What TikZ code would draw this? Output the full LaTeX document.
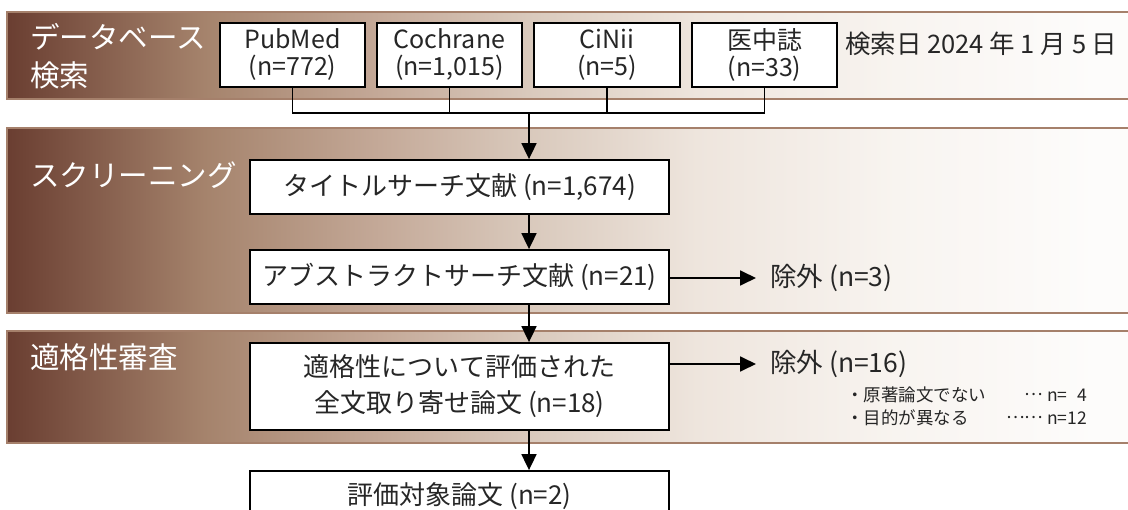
\documentclass[tikz,border=0pt]{standalone}
\usepackage{fontspec}
\setmainfont{Noto Sans CJK JP}
\usetikzlibrary{arrows.meta}
\definecolor{brA}{HTML}{6A3E31}
\definecolor{brB}{HTML}{A5836C}
\definecolor{brC}{HTML}{C4A998}
\definecolor{brD}{HTML}{D9C9BC}
\definecolor{brE}{HTML}{EEE5DD}
\definecolor{brF}{HTML}{F8F4F0}
\definecolor{brG}{HTML}{FDFCFB}
\definecolor{brline}{HTML}{A5806B}
\definecolor{txt}{HTML}{262626}
\pgfdeclarehorizontalshading{bandshade}{100bp}{color(0bp)=(brA); color(25bp)=(brA);
  color(33.8bp)=(brB); color(41.6bp)=(brC); color(48.2bp)=(brD); color(55.7bp)=(brE);
  color(64.6bp)=(brF); color(73.5bp)=(brG); color(100bp)=(brG)}
\newcommand{\middots}[1]{\raisebox{0.3em}{#1}}
\begin{document}
\begin{tikzpicture}[x=1pt,y=-1pt,
  band/.style={shading=bandshade, draw=brline, line width=1.2pt},
  lbl/.style={anchor=west, text=white, align=left, font=\fontsize{29.5}{38}\selectfont, inner sep=0pt},
  box/.style={draw, line width=1.8pt, fill=white, text=txt, align=center, inner sep=0pt,
    font=\fontsize{26}{29}\selectfont},
  dbbox/.style={box, minimum height=64pt, font=\fontsize{25}{27}\selectfont},
  note/.style={anchor=west, text=txt, inner sep=0pt, font=\fontsize{26.5}{29}\selectfont},
  line/.style={line width=1.8pt},
  arr/.style={line width=1.8pt, -{Triangle[length=16pt,width=15pt]}}]
\clip (0,0) rectangle (1128,510);
% bands
\path[band] (7,12) rectangle (1130,99);
\path[band] (7,128) rectangle (1130,313);
\path[band] (7,331) rectangle (1130,443);
\node[lbl] (lab1) at (30,56) {データベース\\検索};
\node[lbl] (lab2) at (30,175) {スクリーニング};
\node[lbl] (lab3) at (30,357) {適格性審査};
% databases
\node[dbbox, minimum width=145pt] (db1) at (292.5,55) {PubMed\\(n=772)};
\node[dbbox, minimum width=145pt] (db2) at (449.5,55) {Cochrane\\(n=1,015)};
\node[dbbox, minimum width=146pt] (db3) at (607,55) {CiNii\\(n=5)};
\node[dbbox, minimum width=145pt] (db4) at (764.5,55) {医中誌\\(n=33)};
\node[note, font=\fontsize{25.5}{28}\selectfont] (date) at (845,44) {検索日 2024 年 1 月 5 日};
\coordinate (hub) at (529,113);
\draw[line] (db1.south) |- (hub);
\draw[line] (db2.south) |- (hub);
\draw[line] (db3.south) |- (hub);
\draw[line] (db4.south) |- (hub);
% flow
\node[box, minimum width=419pt, minimum height=54pt] (tbox) at (459.5,187) {タイトルサーチ文献 (n=1,674)};
\node[box, minimum width=419pt, minimum height=54pt] (abox) at (459.5,277) {アブストラクトサーチ文献 (n=21)};
\node[box, minimum width=419pt, minimum height=87pt, font=\fontsize{26}{36}\selectfont] (ebox) at (459.5,386.5) {適格性について評価された\\全文取り寄せ論文 (n=18)};
\node[box, minimum width=419pt, minimum height=50pt] (fbox) at (459.5,496) {評価対象論文 (n=2)};
\draw[arr] (hub) -- (tbox.north -| hub);
\draw[arr] (tbox.south -| hub) -- (abox.north -| hub);
\draw[arr] (abox.south -| hub) -- (ebox.north -| hub);
\draw[arr] (ebox.south -| hub) -- (fbox.north -| hub);
% exclusions
\node[note] (ex1) at (770,278) {除外 (n=3)};
\node[note] (ex2) at (770,364) {除外 (n=16)};
\node[note, font=\fontsize{17.5}{23}\selectfont] (exl) at (846,408)
  {\begin{tabular}{@{}l@{\hspace{20pt}}r@{}}・原著論文でない & \middots{…} n=\phantom{1}4\\ ・目的が異なる & \middots{……} n=12\end{tabular}};
\draw[arr, shorten >=14pt] (abox.east |- ex1.west) -- (ex1.west);
\draw[arr, shorten >=14pt] (ebox.east |- ex2.west) -- (ex2.west);
\end{tikzpicture}
\end{document}
